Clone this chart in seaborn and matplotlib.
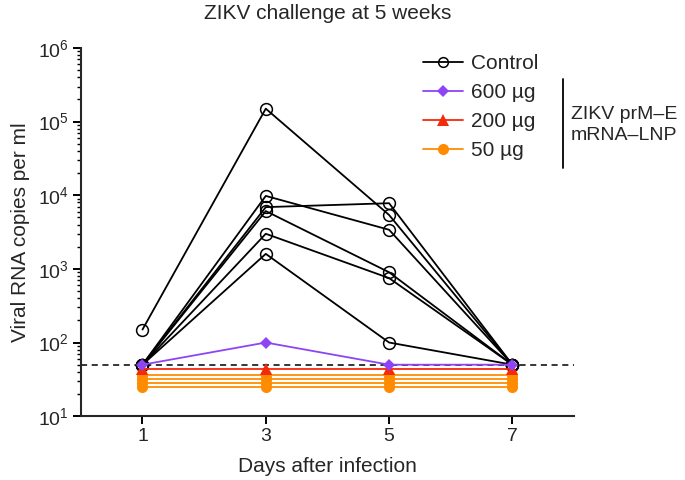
import numpy as np
import pandas as pd
import matplotlib
matplotlib.use("Agg")
import matplotlib.pyplot as plt
from matplotlib.lines import Line2D
from matplotlib.ticker import LogLocator, NullFormatter
import seaborn as sns

sns.set_style("ticks")
plt.rcParams['font.family'] = ['Liberation Sans', 'DejaVu Sans']
plt.rcParams['mathtext.fontset'] = 'custom'
plt.rcParams['mathtext.rm'] = 'Liberation Sans'

days = [1, 3, 5, 7]

# Control animals (viral RNA copies per ml)
control = [
    [150, 150000, 5400, 50],
    [50, 9800, 3400, 50],
    [50, 6900, 7800, 50],
    [50, 6100, 900, 50],
    [50, 3000, 750, 50],
    [50, 1600, 100, 50],
]
dose600 = [[50, 100, 50, 50]]
dose200 = [[44, 44, 44, 44]]
dose50 = [
    [36, 36, 36, 36],
    [32, 32, 32, 32],
    [28, 28, 28, 28],
    [25, 25, 25, 25],
]
lod = 50

group_labels = ["Control", "600 µg", "200 µg", "50 µg"]
colors = {"Control": "black", "600 µg": "#8E44F5", "200 µg": "#F52A0A", "50 µg": "#FF8C00"}
markers = {"Control": "o", "600 µg": "D", "200 µg": "^", "50 µg": "o"}

rows = []
for g, series in zip(group_labels, [control, dose600, dose200, dose50]):
    for i, vals in enumerate(series):
        for d, v in zip(days, vals):
            rows.append({"group": g, "animal": f"{g}-{i}", "day": d, "value": v})
df = pd.DataFrame(rows)

FS = 15
fig = plt.figure(figsize=(6.85, 4.8), dpi=100)
ax = fig.add_axes([0.118, 0.133, 0.72, 0.767])

ax.axhline(lod, color="black", ls=(0, (4, 3)), lw=1.1, zorder=1)

styles = {
    "Control": dict(markersize=8.5, markerfacecolor="none", markeredgecolor="black", markeredgewidth=1.1, zorder=3),
    "50 µg": dict(markersize=8, markeredgewidth=0, zorder=4),
    "200 µg": dict(markersize=8, markeredgewidth=0, zorder=5),
    "600 µg": dict(markersize=6.5, markeredgewidth=0, zorder=6),
}
for g in ["Control", "50 µg", "200 µg", "600 µg"]:
    sub = df[df.group == g]
    sns.lineplot(data=sub, x="day", y="value", units="animal", estimator=None,
                 color=colors[g], marker=markers[g], lw=1.3, ax=ax, legend=False,
                 **styles[g])

ax.set_yscale("log")
ax.set_ylim(10, 1e6)
ax.set_xlim(0, 8)
ax.set_xticks(days)
ax.yaxis.set_major_locator(LogLocator(base=10, numticks=10))
ax.yaxis.set_minor_locator(LogLocator(base=10, subs=np.arange(2, 10), numticks=20))
ax.yaxis.set_minor_formatter(NullFormatter())

sns.despine(ax=ax)
for s in ["left", "bottom"]:
    ax.spines[s].set_linewidth(1.5)
ax.tick_params(axis="both", which="major", length=5.5, width=1.4, labelsize=14, direction="out", color="black", pad=3)
ax.tick_params(axis="y", which="minor", length=3.2, width=1.0, direction="out", color="black")

ax.set_xlabel("Days after infection", fontsize=FS, labelpad=9)
ax.set_ylabel("Viral RNA copies per ml", fontsize=FS, labelpad=6)
ax.set_title("ZIKV challenge at 5 weeks", fontsize=FS, pad=21)

handles = []
for g in group_labels:
    st = styles[g].copy()
    st.pop("zorder", None)
    if g == "Control":
        st["markersize"] = 7
    elif g == "600 µg":
        st["markersize"] = 6
    else:
        st["markersize"] = 8
    handles.append(Line2D([], [], color=colors[g], marker=markers[g], lw=1.3, **st))
leg = fig.legend(handles, group_labels, loc="upper left",
                 bbox_to_anchor=(423 / 685, 1 - 54 / 480), bbox_transform=fig.transFigure,
                 frameon=False, fontsize=FS, handlelength=1.9, handletextpad=0.4,
                 labelspacing=0.48, borderaxespad=0, borderpad=0)

fig.add_artist(Line2D([563 / 685, 563 / 685], [1 - 79 / 480, 1 - 168 / 480],
                      color="black", lw=1.3, transform=fig.transFigure))
fig.text(571 / 685, 1 - 125 / 480, "ZIKV prM–E\nmRNA–LNP", fontsize=14,
         ha="left", va="center", linespacing=1.3)

fig.savefig("out.png", dpi=100)
